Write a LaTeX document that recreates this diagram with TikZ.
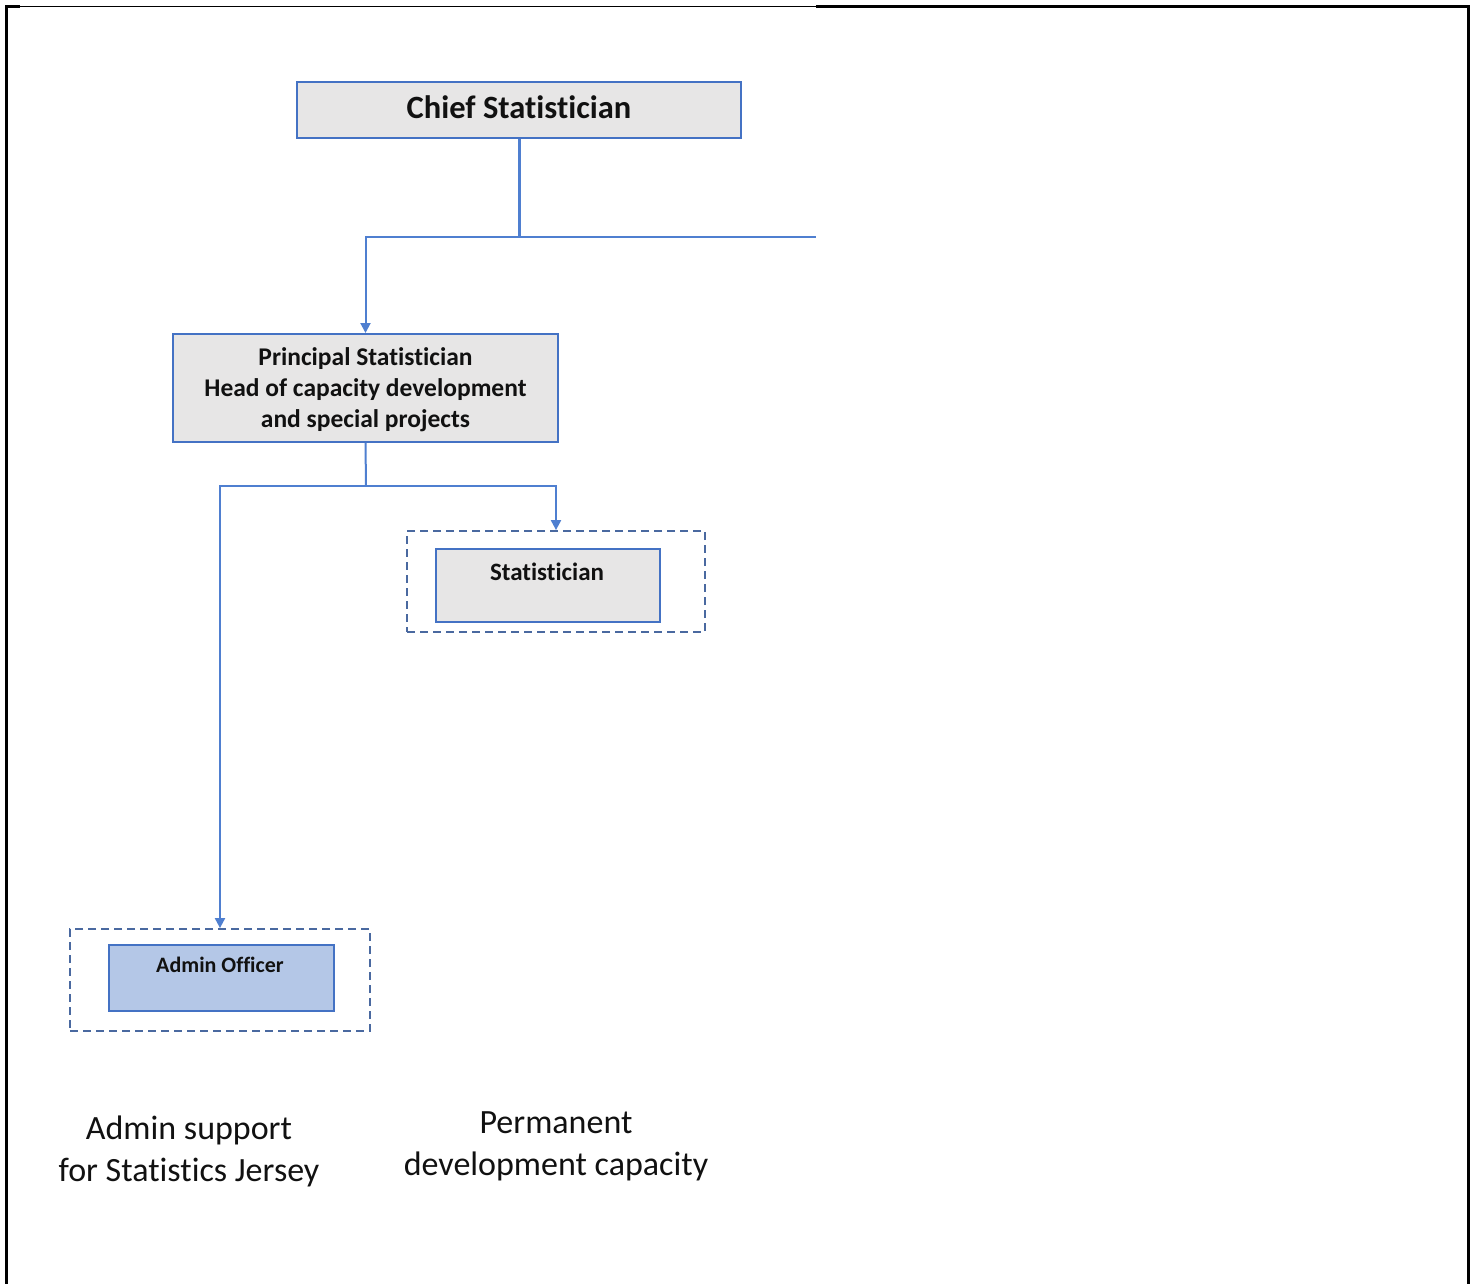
\documentclass[tikz,border=0pt]{standalone}
\usepackage{fontspec}
\setmainfont{Carlito}[Ligatures={NoCommon,NoContextual,NoRare}]
\usetikzlibrary{arrows.meta}
\definecolor{boxblue}{HTML}{4472C4}
\definecolor{lineblue}{HTML}{4F7FD0}
\definecolor{dashblue}{HTML}{4A69A0}
\definecolor{boxgray}{HTML}{E7E6E6}
\definecolor{adminfill}{HTML}{B4C7E7}
\definecolor{txt}{HTML}{111111}
\tikzset{
  orgbox/.style={draw=boxblue, line width=2pt, fill=boxgray, inner sep=0pt, text=txt, align=center},
  grpbox/.style={draw=dashblue, line width=1.8pt, dash pattern=on 8pt off 5pt, inner sep=0pt},
  conn/.style={draw=lineblue, line width=2pt},
  arr/.style={conn, -{Triangle[width=10pt,length=10pt]}},
  lbl/.style={text=txt, inner sep=0pt, anchor=base},
  frameline/.style={draw=black, line width=3pt}
}
\begin{document}
\begin{tikzpicture}[x=1pt,y=-1pt]
\useasboundingbox (0,0) rectangle (1477,1284);
% frame
\draw[frameline] (6.5,1284) -- (6.5,7) -- (20,7);
\draw[draw=black, line width=1pt] (20,6.5) -- (816,6.5);
\draw[frameline] (816,7) -- (1468.5,7) -- (1468.5,1284);

% chief
\node[orgbox, minimum width=444pt, minimum height=56pt] (chief) at (519,110) {};
\node[lbl, font=\bfseries\fontsize{32.5}{38}\selectfont] (ctxt) at (519,119) {Chief Statistician};

% principal
\node[orgbox, minimum width=385pt, minimum height=108pt] (principal) at (365.5,388) {};
\node[lbl, align=center, font=\bfseries\fontsize{25.5}{31}\selectfont] (ptxt) at (365.5,427) {Principal Statistician\\Head of capacity development\\and special projects};

% statistician group
\node[grpbox, minimum width=298pt, minimum height=101pt] (statgrp) at (556,581.5) {};
\node[orgbox, minimum width=224pt, minimum height=73pt] (statbox) at (548,585.5) {};
\node[lbl, font=\bfseries\fontsize{25}{30}\selectfont] (stattxt) at (547,580) {Statistician};

% admin group
\node[grpbox, minimum width=300pt, minimum height=102pt] (admgrp) at (220,980) {};
\node[orgbox, fill=adminfill, minimum width=225pt, minimum height=66pt] (admbox) at (221.5,978) {};
\node[lbl, font=\bfseries\fontsize{22}{26}\selectfont] (admtxt) at (220,972) {Admin Officer};

% connectors
\coordinate (j1) at (519,237);
\coordinate (rend) at (816,237);
\coordinate (j2) at (366,486);
\draw[conn, line width=3pt] (chief.south) -- (j1);
\draw[conn] (j1) -- (rend);
\draw[arr] (j1) -| (principal.north);
\draw[conn] (principal.south) -- (j2);
\draw[arr] (j2) -| (statgrp.north);
\draw[arr] (j2) -| (admgrp.north);

% bottom labels
\node[lbl, align=center, font=\fontsize{34}{42}\selectfont] (lblA) at (189,1181) {Admin support\\for Statistics Jersey};
\node[lbl, align=center, font=\fontsize{34}{42}\selectfont] (lblB) at (556,1175) {Permanent\\development capacity};
\end{tikzpicture}
\end{document}
